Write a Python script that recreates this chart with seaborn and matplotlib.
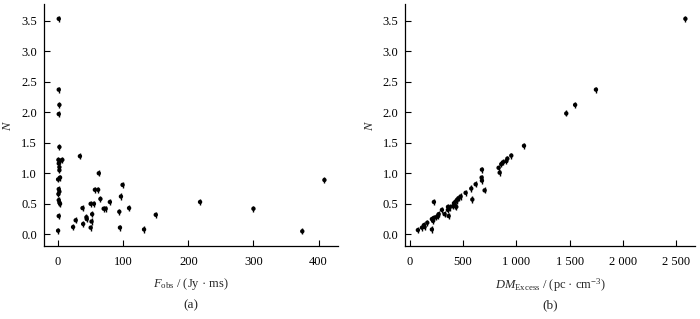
import numpy as np
import pandas as pd
import matplotlib
matplotlib.use("Agg")
import matplotlib.pyplot as plt
import seaborn as sns
from matplotlib.ticker import MultipleLocator, FuncFormatter, FormatStrFormatter

# 图 (a): 观测通量 F_obs (Jy·ms) 与 N
f_obs = [1, 1, 2, 1, 2, 0.5, 3, 6.5, 1, 2, 2, 3, 0, 1, 2, 0.5, 1, 2, 3, 1, 0,
         23, 27, 33.5, 37.5, 38.5, 43.5, 44, 50, 50, 51.3, 52.3, 55, 56.5, 61.5,
         62.5, 65, 70, 73, 79.5, 94, 95, 96.5, 99, 109, 132, 150, 218, 300, 375, 409]
n_a = [3.53, 2.37, 2.12, 1.97, 1.43, 1.22, 1.20, 1.22, 1.16, 1.10, 1.05, 0.93, 0.90,
       0.74, 0.70, 0.66, 0.56, 0.52, 0.50, 0.30, 0.06,
       0.12, 0.23, 1.28, 0.43, 0.17, 0.28, 0.25, 0.50, 0.11, 0.21, 0.33, 0.50, 0.73, 0.73,
       1.00, 0.58, 0.42, 0.42, 0.53, 0.37, 0.11, 0.62, 0.81, 0.43, 0.08, 0.32, 0.53, 0.42,
       0.05, 0.89]

# 图 (b): 色散量超出 DM_Excess (pc·cm^-3) 与 N
dm_excess = [2584, 1746, 1551, 1468, 1072, 953, 916, 906, 875, 859, 834, 844, 678, 675,
             678, 703, 619, 578, 588, 525, 478, 460, 447, 440, 428, 425, 416, 406, 438,
             375, 360, 359, 366, 328, 303, 272, 266, 250, 228, 228, 220, 209, 209, 166,
             140, 134, 116, 78]
n_b = [3.53, 2.37, 2.12, 1.98, 1.45, 1.29, 1.24, 1.20, 1.18, 1.15, 1.09, 1.01, 1.06, 0.93,
       0.88, 0.72, 0.82, 0.75, 0.57, 0.68, 0.62, 0.59, 0.57, 0.55, 0.53, 0.47, 0.51, 0.46,
       0.45, 0.44, 0.45, 0.40, 0.30, 0.33, 0.40, 0.33, 0.30, 0.28, 0.53, 0.27, 0.22, 0.25,
       0.08, 0.19, 0.12, 0.15, 0.11, 0.07]

n_err = 0.05  # N 的误差棒半长

df_a = pd.DataFrame({"F": f_obs, "N": n_a})
df_b = pd.DataFrame({"DM": dm_excess, "N": n_b})

sns.set_theme(style="ticks")
plt.rcParams["font.family"] = ["Liberation Serif", "DejaVu Serif"]
plt.rcParams["mathtext.fontset"] = "custom"
plt.rcParams["mathtext.rm"] = "Liberation Serif"
plt.rcParams["mathtext.it"] = "Liberation Serif:italic"
plt.rcParams["font.size"] = 9

fig = plt.figure(figsize=(7, 3.19), dpi=100)
ax_a = fig.add_axes([0.063, 0.229, 0.42, 0.758])
ax_b = fig.add_axes([0.579, 0.229, 0.414, 0.758])


def draw(ax, data, xcol):
    # 误差棒 + 数据点
    ax.errorbar(data[xcol], data["N"], yerr=n_err, fmt="none", ecolor="black",
                elinewidth=1.0, capsize=0, zorder=2)
    sns.scatterplot(data=data, x=xcol, y="N", ax=ax, color="black", s=10,
                    edgecolor="none", zorder=3, legend=False)
    ax.set_ylim(-0.19, 3.77)
    ax.yaxis.set_major_locator(MultipleLocator(0.5))
    ax.yaxis.set_major_formatter(FormatStrFormatter("%.1f"))
    ax.tick_params(direction="in", length=4, width=0.8, labelsize=9, colors="black")
    ax.tick_params(axis="x", pad=7)
    ax.tick_params(axis="y", pad=5)
    for s in ["left", "bottom"]:
        ax.spines[s].set_linewidth(0.9)
        ax.spines[s].set_color("black")
    sns.despine(ax=ax)
    ax.set_ylabel("$N$", fontsize=9, labelpad=5)


draw(ax_a, df_a, "F")
ax_a.set_xlim(-21.5, 430)
ax_a.xaxis.set_major_locator(MultipleLocator(100))
ax_a.set_xlabel(r"$F_{\rm obs}$ / (Jy · ms)", fontsize=9, labelpad=6)
ax_a.text(0.5, -0.245, "(a)", transform=ax_a.transAxes, ha="center", va="center", fontsize=9.5)

draw(ax_b, df_b, "DM")
ax_b.set_xlim(-40, 2675)
ax_b.xaxis.set_major_locator(MultipleLocator(500))
ax_b.xaxis.set_major_formatter(FuncFormatter(lambda v, p: f"{int(v):,}".replace(",", " ")))
ax_b.set_xlabel(r"$DM_{\rm Excess}$ / (pc · cm$^{-3}$)", fontsize=9, labelpad=6)
ax_b.text(0.5, -0.245, "(b)", transform=ax_b.transAxes, ha="center", va="center", fontsize=9.5)

fig.savefig("out.png", dpi=100)
